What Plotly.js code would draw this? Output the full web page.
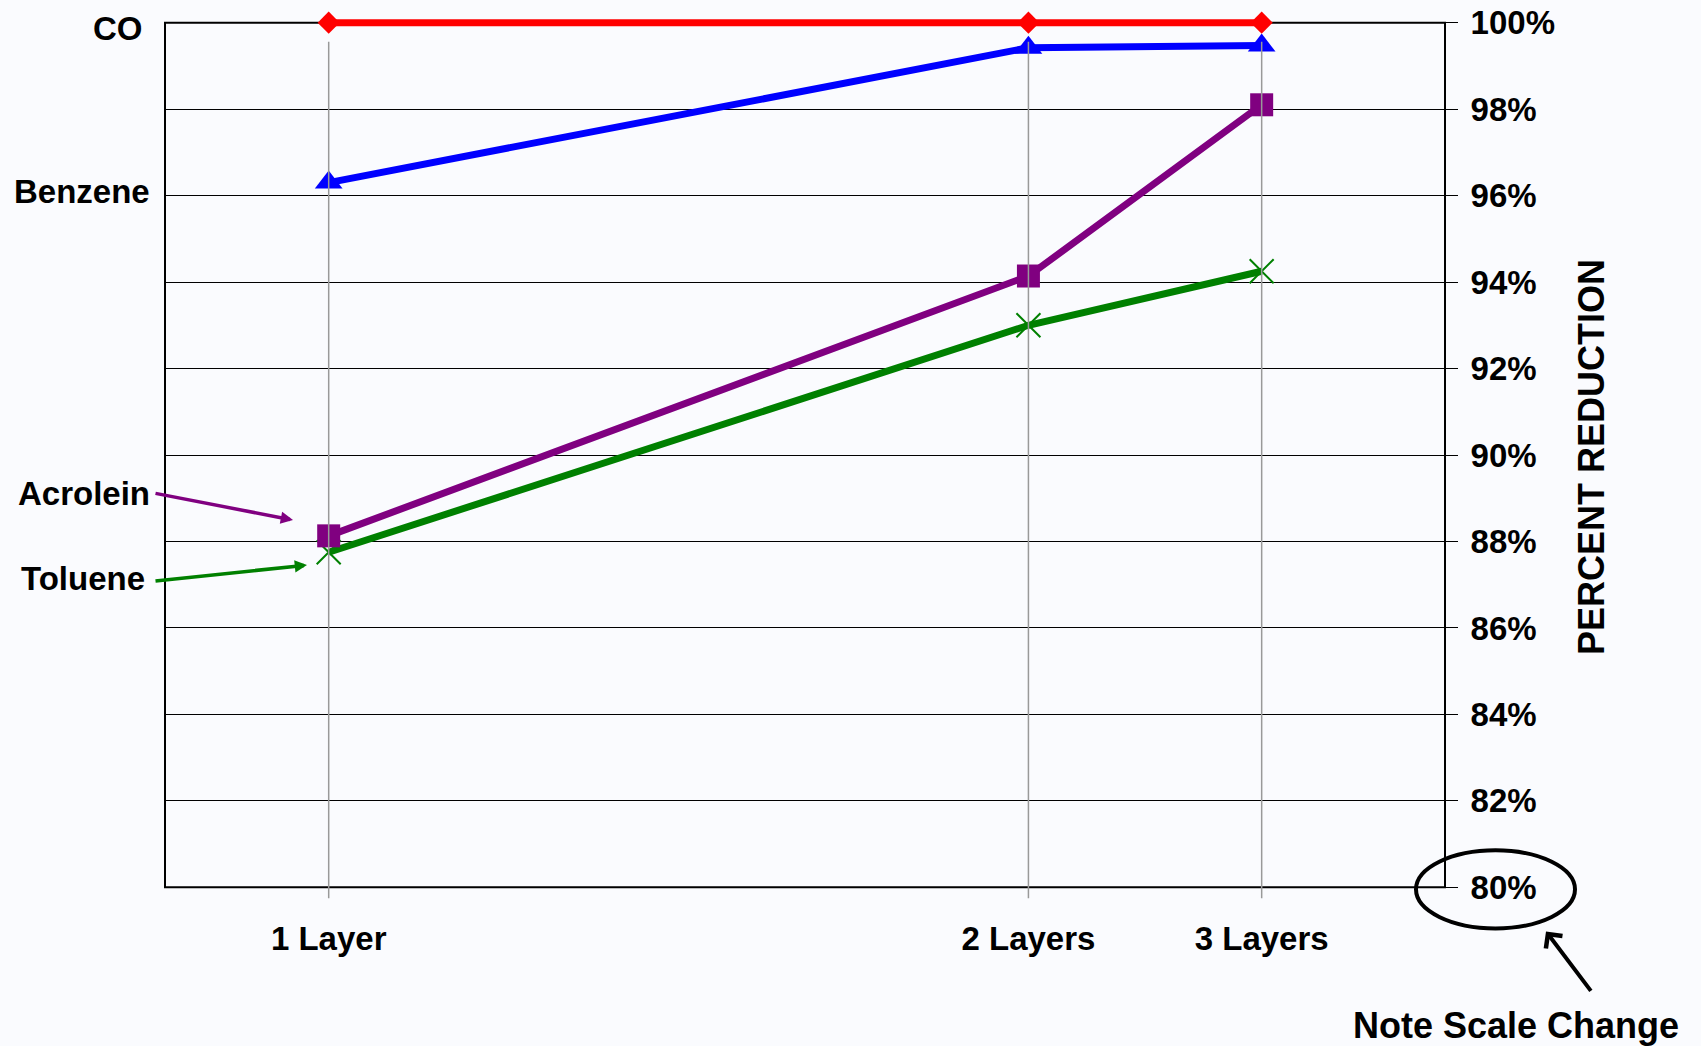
<!DOCTYPE html>
<html>
<head>
<meta charset="utf-8">
<script src="https://cdn.plot.ly/plotly-3.0.1.min.js"></script>
<style>
  html, body { margin: 0; padding: 0; background: #fafbfe; }
  #chart { width: 1701px; height: 1046px; }
</style>
</head>
<body>
<div id="chart"></div>
<script>
// Number of filter layers and where each sits along the x axis
const layerLabels = ['1 Layer', '2 Layers', '3 Layers'];
const layerPos = [1, 4, 5];

// Percent reduction per pollutant
const coValues = [100, 100, 100];
const benzeneValues = [96.3, 99.42, 99.47];
const acroleinValues = [88.13, 94.14, 98.1];
const tolueneValues = [87.75, 93.0, 94.25];

// Right-hand percent scale
const pctMin = 80, pctMax = 100;
const pctTicks = [80, 82, 84, 86, 88, 90, 92, 94, 96, 98, 100];
const pctLabels = pctTicks.map(v => v + '%');

// Page geometry: the framed 80–100% box, with a little headroom so the
// thick 100% line is not clipped by the plotting area
const W = 1701, H = 1046;
const FRAME = { left: 165, right: 1445, top: 23, bottom: 887 };
const PAD = 0.2;                                   // in percent units
const pxPerPct = (FRAME.bottom - FRAME.top) / (pctMax - pctMin);
const plotTop = FRAME.top - PAD * pxPerPct;
const plotBottom = FRAME.bottom + PAD * pxPerPct;
const plotW = FRAME.right - FRAME.left;
const plotH = plotBottom - plotTop;
const px = x => (x - FRAME.left) / plotW;          // page pixel -> paper x
const py = y => (plotBottom - y) / plotH;          // page pixel -> paper y

const FONT = 'Liberation Sans, Arial, Helvetica, sans-serif';
const boldFont = (size, color) => ({ family: FONT, size: size, color: color || '#000', weight: 700 });

function series(values, color, symbol, size, lineWidth) {
  const marker = { symbol: symbol, size: size, color: color };
  if (symbol.indexOf('x-thin') === 0) marker.line = { color: color, width: 2 };
  return {
    type: 'scatter', mode: 'lines+markers',
    x: layerPos, y: values,
    line: { color: color, width: lineWidth },
    marker: marker,
    cliponaxis: false,
    hoverinfo: 'skip'
  };
}

const traces = [
  series(tolueneValues, '#008000', 'x-thin', 24, 7),
  series(acroleinValues, '#800080', 'square', 23, 7),
  series(benzeneValues, '#0000ff', 'triangle-up', 24, 7),
  series(coValues, '#ff0000', 'diamond', 17, 7)
];

// Black frame around the 80–100% box
const frame = {
  type: 'rect', xref: 'paper', yref: 'y',
  x0: 0, x1: 1, y0: pctMin, y1: pctMax,
  line: { color: '#000', width: 2 },
  layer: 'below'
};

// Vertical guide lines through each layer position, drawn over the data
const guideLines = layerPos.map(p => ({
  type: 'line', xref: 'x', yref: 'paper',
  x0: p, x1: p, y0: py(898), y1: py(42),
  line: { color: '#999999', width: 1.5 },
  layer: 'above'
}));

const noteEllipse = {
  type: 'circle', xref: 'paper', yref: 'paper',
  x0: px(1416), x1: px(1575), y0: py(928), y1: py(850),
  line: { color: '#000', width: 4 },
  layer: 'above'
};

function label(text, xRight, yMid) {
  return { text: text, xref: 'paper', yref: 'paper', x: px(xRight), y: py(yMid),
    xanchor: 'right', yanchor: 'middle', showarrow: false, font: boldFont(33) };
}
function pointer(color, head, tail, style, width, size) {
  return { text: '', xref: 'paper', yref: 'paper', x: px(head[0]), y: py(head[1]),
    ax: tail[0] - head[0], ay: tail[1] - head[1],
    showarrow: true, arrowhead: style, arrowwidth: width, arrowsize: size,
    arrowcolor: color };
}

const annotations = [
  label('CO', 145, 28.5),
  label('Benzene', 152, 192),
  label('Acrolein', 152, 493),
  label('Toluene', 147, 578),
  pointer('#800080', [293, 520], [154, 493], 2, 3.5, 0.7),
  pointer('#008000', [307, 565], [154, 581], 2, 3.5, 0.7),
  pointer('#000', [1546, 931], [1592, 992], 4, 4, 1),
  { text: 'Note Scale Change', xref: 'paper', yref: 'paper', x: px(1516), y: py(1047),
    xanchor: 'center', yanchor: 'bottom', borderpad: 0, showarrow: false,
    font: boldFont(36) },
  { text: 'PERCENT REDUCTION', xref: 'paper', yref: 'paper', x: px(1591), y: py(457),
    xanchor: 'center', yanchor: 'middle', textangle: -90, showarrow: false,
    font: boldFont(36) }
];

const layout = {
  width: W, height: H,
  margin: { l: FRAME.left, r: W - FRAME.right, t: plotTop, b: H - plotBottom },
  paper_bgcolor: '#fafbfe', plot_bgcolor: '#fafbfe',
  showlegend: false, hovermode: false,
  xaxis: {
    range: [0.2982, 5.786], tickvals: layerPos, ticktext: layerLabels,
    showgrid: false, zeroline: false, ticks: '', showline: false,
    tickfont: boldFont(33), ticklabelstandoff: 20
  },
  yaxis: {
    side: 'right', range: [pctMin - PAD, pctMax + PAD],
    tickvals: pctTicks, ticktext: pctLabels,
    showgrid: true, gridcolor: '#000', gridwidth: 1, zeroline: false,
    ticks: 'outside', ticklen: 12, tickwidth: 1, tickcolor: '#000',
    showline: false, tickfont: boldFont(33), ticklabelstandoff: 6
  },
  shapes: [frame].concat(guideLines, [noteEllipse]),
  annotations: annotations
};

Plotly.newPlot('chart', traces, layout, { staticPlot: true, displayModeBar: false });
</script>
</body>
</html>
